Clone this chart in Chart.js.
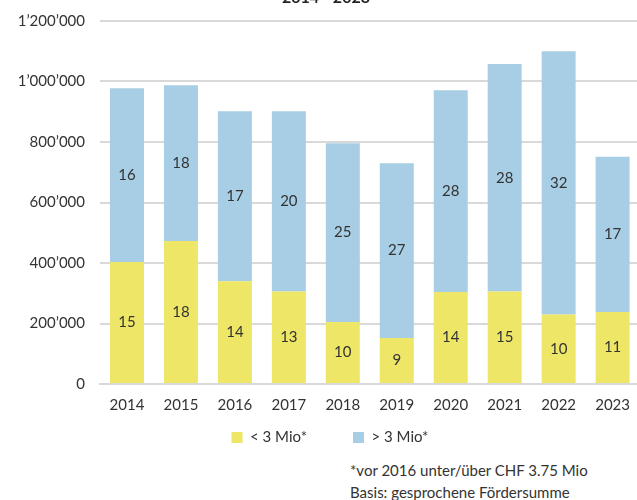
<!DOCTYPE html>
<html>
<head>
<meta charset="utf-8">
<script src="https://cdn.jsdelivr.net/npm/chart.js@4"></script>
<style>
  body { margin: 0; width: 637px; height: 500px; overflow: hidden; position: relative; background: #fff; font-family: Lato, sans-serif; color: #333; }
  #wrap { position: absolute; left: 0; top: -3px; width: 642px; height: 458px; }
  #title { position: absolute; left: 0; width: 652px; top: -13px; text-align: center; font-weight: bold; font-size: 16px; color: #222; }
  .note { position: absolute; left: 350px; font-size: 15px; color: #333; white-space: nowrap; }
</style>
</head>
<body>
<div id="wrap"><canvas id="chart"></canvas></div>
<div id="title">2014 - 2023</div>
<div class="note" style="top:461px">*vor 2016 unter/über CHF 3.75 Mio</div>
<div class="note" style="top:483px">Basis: gesprochene Fördersumme</div>
<script>
const years = ['2014', '2015', '2016', '2017', '2018', '2019', '2020', '2021', '2022', '2023'];
const seriesNames = ['< 3 Mio*', '> 3 Mio*'];
// amounts (CHF)
const smallAmount = [403000, 473000, 340000, 306000, 205000, 152000, 304000, 306000, 230000, 238000];
const bigAmount = [575000, 515000, 562000, 596000, 591000, 578000, 667000, 752000, 870000, 513000];
// number of projects printed inside the bars
const smallCount = [15, 18, 14, 13, 10, 9, 14, 15, 10, 11];
const bigCount = [16, 18, 17, 20, 25, 27, 28, 28, 32, 17];
const yTicks = [0, 200000, 400000, 600000, 800000, 1000000, 1200000];

const colors = ['#EEE666', '#A7CEE5'];

const fmt = v => String(v).replace(/\B(?=(\d{3})+(?!\d))/g, '\u2019');

const countLabels = {
  id: 'countLabels',
  afterDatasetsDraw(chart) {
    const ctx = chart.ctx;
    const counts = [smallCount, bigCount];
    ctx.save();
    ctx.font = '15px Lato, sans-serif';
    ctx.fillStyle = '#333';
    ctx.textAlign = 'center';
    ctx.textBaseline = 'middle';
    chart.data.datasets.forEach((ds, i) => {
      chart.getDatasetMeta(i).data.forEach((bar, j) => {
        const p = bar.getProps(['x', 'y', 'base'], true);
        ctx.fillText(counts[i][j], p.x, (p.y + p.base) / 2);
      });
    });
    ctx.restore();
  }
};

// legend padding is also used vertically, so pull the legend box up
// to keep the wide gap between items without eating the plot height
const LEGEND_SHIFT = 42;
const tightLegend = {
  id: 'tightLegend',
  afterInit(chart) {
    const lg = chart.legend;
    if (!lg) return;
    const fit = lg.fit;
    lg.fit = function () { fit.call(this); this.height -= LEGEND_SHIFT; };
    const draw = lg.draw;
    lg.draw = function (area) {
      this.top -= LEGEND_SHIFT;
      draw.call(this, area);
      this.top += LEGEND_SHIFT;
    };
  }
};

new Chart(document.getElementById('chart'), {
  type: 'bar',
  data: {
    labels: years,
    datasets: [
      { label: seriesNames[0], data: smallAmount, backgroundColor: colors[0] },
      { label: seriesNames[1], data: bigAmount, backgroundColor: colors[1] }
    ]
  },
  options: {
    responsive: true,
    maintainAspectRatio: false,
    animation: false,
    layout: { padding: { top: 8, left: 18, right: 0, bottom: 0 } },
    categoryPercentage: 1,
    barPercentage: 0.63,
    plugins: {
      tooltip: { enabled: false },
      legend: {
        position: 'bottom',
        labels: {
          boxWidth: 11, boxHeight: 11, padding: 46,
          color: '#333', font: { family: 'Lato', size: 15 }
        }
      }
    },
    scales: {
      x: {
        stacked: true,
        grid: { display: false, drawTicks: false },
        border: { color: '#d9d9d9', width: 2 },
        ticks: { color: '#333', padding: 12, font: { family: 'Lato', size: 15 } }
      },
      y: {
        stacked: true,
        min: 0, max: 1200000,
        afterFit: s => { s.width = 82; },
        afterBuildTicks: s => { s.ticks = yTicks.map(v => ({ value: v })); },
        grid: { color: '#d9d9d9', lineWidth: 2, drawTicks: false },
        border: { display: false },
        ticks: { color: '#333', padding: 15, font: { family: 'Lato', size: 15 }, callback: v => fmt(v) }
      }
    }
  },
  plugins: [countLabels, tightLegend]
});
</script>
</body>
</html>
